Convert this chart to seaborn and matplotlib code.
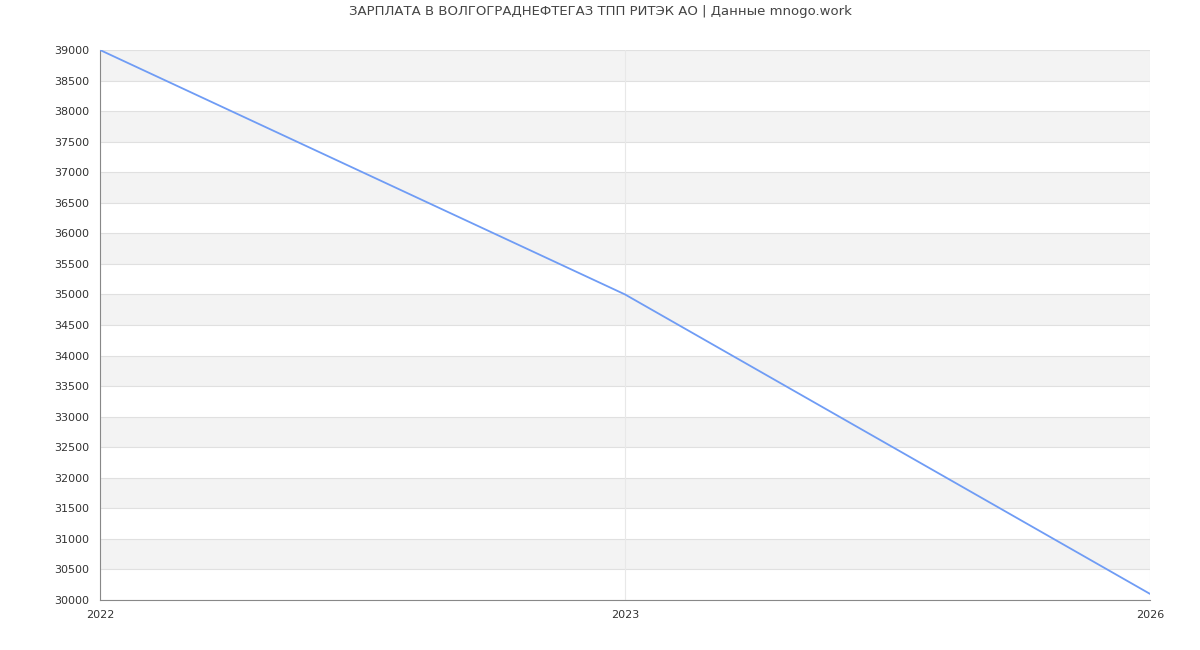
import matplotlib
matplotlib.use("Agg")
import matplotlib.pyplot as plt
import seaborn as sns
import pandas as pd

years = ["2022", "2023", "2026"]
salary = [39000, 35000, 30100]

sns.set_style("white")
df = pd.DataFrame({"pos": range(len(years)), "salary": salary})

fig = plt.figure(figsize=(12, 6.5), dpi=100)
ax = fig.add_axes([100 / 1200, 50 / 650, 1050 / 1200, 550 / 650])

# alternating horizontal bands
for lo in range(30500, 39000, 1000):
    ax.axhspan(lo, lo + 500, color="#f3f3f3", zorder=0, lw=0)
for y in range(30000, 39001, 500):
    ax.axhline(y, color="#e0e0e0", lw=0.8, zorder=1)
for x in range(len(years)):
    ax.axvline(x, color="#e8e8e8", lw=0.8, zorder=1)

sns.lineplot(data=df, x="pos", y="salary", color="#6f9cf5", lw=1.3, ax=ax, zorder=3)

ax.set_xlim(0, len(years) - 1)
ax.set_ylim(30000, 39000)
ax.set_xticks(range(len(years)))
ax.set_xticklabels(years)
ax.set_yticks(range(30000, 39001, 500))
ax.tick_params(labelsize=8, colors="#333333", length=4)
ax.set_xlabel("")
ax.set_ylabel("")
for side in ["top", "right"]:
    ax.spines[side].set_visible(False)
ax.spines["left"].set_color("#888888")
ax.spines["bottom"].set_color("#888888")

fig.suptitle("ЗАРПЛАТА В ВОЛГОГРАДНЕФТЕГАЗ ТПП РИТЭК АО | Данные mnogo.work",
             y=0.992, fontsize=9.5, color="#444444")
fig.savefig("out.png", dpi=100)
